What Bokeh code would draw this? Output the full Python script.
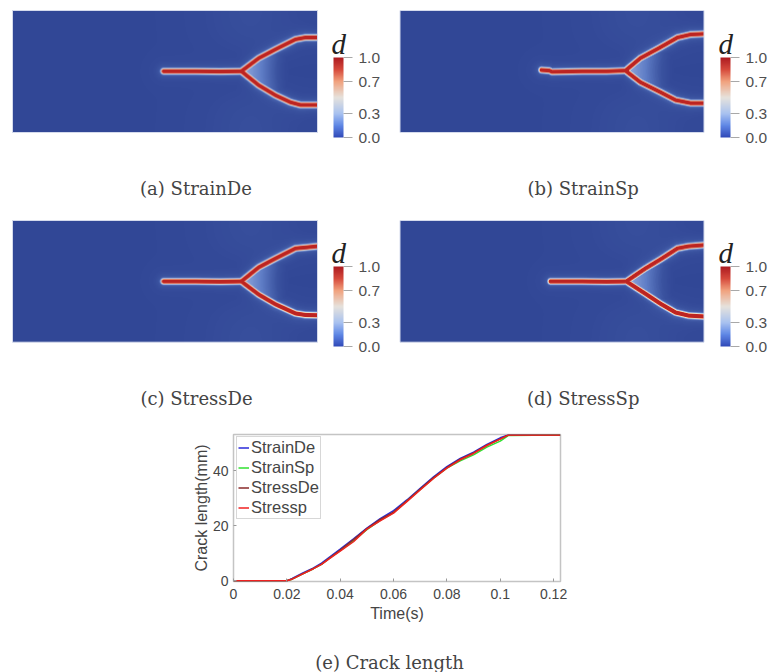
import numpy as np
from bokeh.embed import file_html
from bokeh.resources import INLINE
from bokeh.plotting import figure
from bokeh.layouts import column, row
from bokeh.models import (ColorBar, FixedTicker, Label, Legend, LegendItem,
                          LinearColorMapper, PrintfTickFormatter)

# ---- crack paths (specimen mm: 100 x 40) ----
a_main_x = [49.5, 60, 68, 75]
a_main_y = [20.0, 20.0, 19.9, 20.0]
a_up_x = [75, 80.7, 86.2, 92.8, 96, 100]
a_up_y = [20.0, 24.3, 27.2, 30.5, 31.1, 31.1]
a_lo_x = [75, 80.7, 86.2, 91.1, 94.4, 100]
a_lo_y = [20.0, 15.4, 12.1, 9.8, 8.9, 8.9]

b_main_x = [46.5, 49, 50, 60, 68, 74.2]
b_main_y = [20.4, 20.2, 19.8, 20.0, 20.0, 20.2]
b_up_x = [74.2, 79.1, 85.7, 91.3, 95.6, 100]
b_up_y = [20.2, 24.3, 27.9, 31.1, 32.1, 32.3]
b_lo_x = [74.2, 79.1, 85.7, 90.7, 95.6, 100]
b_lo_y = [20.2, 16.4, 13.1, 10.5, 9.5, 9.5]

c_main_x = [49.5, 60, 68, 75]
c_main_y = [19.9, 19.9, 19.8, 19.9]
c_up_x = [75, 80.7, 86.2, 92.8, 96, 100]
c_up_y = [19.9, 24.5, 27.4, 30.7, 31, 31.4]
c_lo_x = [75, 80.7, 86.2, 92.8, 96, 100]
c_lo_y = [19.9, 15.6, 12.4, 9.4, 8.9, 8.8]

d_main_x = [49.5, 60, 68, 74.5]
d_main_y = [19.9, 19.9, 19.8, 19.9]
d_up_x = [74.5, 80.7, 85.7, 91.3, 94.9, 100]
d_up_y = [19.9, 24.1, 27.1, 30.7, 31.4, 31.8]
d_lo_x = [74.5, 80.7, 85.7, 90.7, 94.9, 100]
d_lo_y = [19.9, 15.9, 12.6, 9.7, 8.7, 8.4]

captions = ["(a) StrainDe", "(b) StrainSp", "(c) StressDe", "(d) StressSp", "(e) Crack length"]
cbar_ticks = [0.0, 0.3, 0.7, 1.0]

# ---- crack length curves ----
time_s = [0, 0.02, 0.022, 0.026, 0.03, 0.033, 0.036, 0.04, 0.045, 0.05, 0.055,
          0.06, 0.065, 0.07, 0.075, 0.08, 0.085, 0.09, 0.095, 0.1, 0.103, 0.1225]
strain_de = [0, 0, 0.9, 2.9, 4.7, 6.4, 8.6, 11.5, 15.3, 19.2, 22.6, 25.5, 29.4, 33.6, 37.8, 41.5, 44.5, 46.8, 49.6, 52, 53, 53]
strain_sp = [0, 0, 0.6, 2.5, 4.4, 6, 8.2, 11, 14.6, 18.6, 22, 24.8, 29, 33.2, 37.3, 41, 43.6, 45.8, 48.6, 50.8, 52.8, 53]
stress_de = [0, 0, 0.7, 2.6, 4.5, 6.1, 8.3, 11.2, 15, 19, 22.3, 25, 29.1, 33.4, 37.5, 41.2, 44.2, 46.5, 49.3, 51.6, 53, 53]
stress_sp = [0, 0, 0.6, 2.5, 4.4, 6, 8.1, 10.8, 14.2, 18.8, 21.8, 24.6, 28.8, 33, 37.2, 41, 44, 46.3, 49.2, 51.5, 53, 53]
x_ticks = [0, 0.02, 0.04, 0.06, 0.08, 0.1, 0.12]
y_ticks = [0, 20, 40]

SANS = "Liberation Sans"
SERIF = "Liberation Serif"
CAP = "DejaVu Serif"


def ramp(stops):
    pos = [s[0] for s in stops]
    rgb = np.array([[int(s[1][i:i + 2], 16) for i in (1, 3, 5)] for s in stops], float)
    t = np.linspace(0, 1, 256)
    chan = [np.interp(t, pos, rgb[:, i]) for i in range(3)]
    return ["#%02x%02x%02x" % tuple(int(round(c[i])) for c in chan) for i in range(256)]


FIELD = ramp([(0, "#2f4494"), (0.06, "#3a529f"), (0.15, "#5f7dc6"), (0.3, "#a0b4e0"), (0.5, "#e4dfd2"),
              (0.7, "#f0a078"), (0.85, "#dc4f3e"), (1, "#bc2422")])
BAR = ramp([(0, "#3049b8"), (0.15, "#5f88e6"), (0.3, "#a9c2f0"), (0.5, "#e6e2dc"),
            (0.7, "#f1a27e"), (0.85, "#d64a3c"), (1, "#ad1a20")])


def seg_dist(X, Y, xs, ys):
    best = np.full(X.shape, 1e9)
    for x0, y0, x1, y1 in zip(xs[:-1], ys[:-1], xs[1:], ys[1:]):
        dx, dy = x1 - x0, y1 - y0
        u = np.clip(((X - x0) * dx + (Y - y0) * dy) / (dx * dx + dy * dy), 0, 1)
        best = np.minimum(best, np.hypot(X - x0 - u * dx, Y - y0 - u * dy))
    return best


def field(mx, my, ux, uy, lx, ly):
    gx = np.linspace(0, 100, 610)
    gy = np.linspace(0, 40, 244)
    X, Y = np.meshgrid(gx, gy)
    r = np.minimum.reduce([seg_dist(X, Y, mx, my), seg_dist(X, Y, ux, uy), seg_dist(X, Y, lx, ly)])
    core = np.minimum(1, 1.5 * np.exp(-(r / 0.8) ** 2))
    halo = 0.17 * np.exp(-r / 1.4)
    inside = (Y < np.interp(X, ux, uy)) & (Y > np.interp(X, lx, ly)) & (X > ux[0])
    wedge = inside * 0.27 * np.clip(1 - (X - ux[0]) / 16, 0, 1) ** 1.3
    base = 0.015 + 0.03 * np.exp(-((X - 78) / 16) ** 2) * (1 - np.exp(-(np.abs(Y - 20) / 9) ** 2))
    return np.maximum.reduce([core, halo + base, wedge + base])


def panel(w, h, left, top, ph, sx, caption, cap_x, cap_y, bar_x, bar_y, d_x, d_y, paths):
    # whole cell is the frame; the specimen sits at (left, top) with scale sx px/mm
    sy = ph / 40
    p = figure(width=w, height=h, x_range=(-left / sx, (w - left) / sx),
               y_range=(-(h - top - ph) / sy, (top + ph) / sy), output_backend="svg",
               toolbar_location=None, x_axis_location=None, y_axis_location=None,
               min_border=0)
    p.grid.visible = False
    p.outline_line_color = None
    mapper = LinearColorMapper(palette=FIELD, low=0, high=1)
    p.image(image=[field(*paths)], x=0, y=0, dw=100, dh=40, color_mapper=mapper)
    p.quad(left=[0], right=[100], bottom=[0], top=[40], fill_color=None, line_color="#d4daec", line_width=1)
    bar_map = LinearColorMapper(palette=BAR, low=0, high=1)
    cb = ColorBar(color_mapper=bar_map, ticker=FixedTicker(ticks=cbar_ticks),
                  formatter=PrintfTickFormatter(format="%.1f"), width=10, height=80,
                  location=(bar_x, bar_y), padding=0, margin=0, background_fill_alpha=0,
                  major_label_text_font=SANS, major_label_text_font_size="15.5px",
                  major_label_text_color="#505050", major_tick_in=0, major_tick_out=9,
                  major_tick_line_color="#a8a8a8", bar_line_color=None, border_line_color=None,
                  minor_tick_line_color=None, label_standoff=6)
    p.add_layout(cb, "center")
    p.add_layout(Label(x=d_x, y=d_y, x_units="screen", y_units="screen", text="d",
                       text_baseline="alphabetic", text_font=SERIF, text_font_style="italic",
                       text_font_size="29px", text_color="#222222"))
    p.add_layout(Label(x=cap_x, y=cap_y, x_units="screen", y_units="screen", text=caption,
                       text_align="center", text_baseline="middle", text_font=CAP,
                       text_font_size="18px", text_color="#444444"))
    return p


fa = panel(392, 208, 12, 10, 122, 3.05, captions[0], 195.5, 20, 333, 71, 331, 165, (a_main_x, a_main_y, a_up_x, a_up_y, a_lo_x, a_lo_y))
fb = panel(376, 208, 7.5, 10, 122, 3.04, captions[1], 190.7, 20, 328, 71, 326, 165, (b_main_x, b_main_y, b_up_x, b_up_y, b_lo_x, b_lo_y))
fc = panel(392, 210, 12, 12, 121.7, 3.05, captions[2], 196, 20.5, 333, 72, 331, 165.3, (c_main_x, c_main_y, c_up_x, c_up_y, c_lo_x, c_lo_y))
fd = panel(376, 210, 7.5, 12, 121.7, 3.04, captions[3], 190.7, 20.5, 328, 72, 326, 165.3, (d_main_x, d_main_y, d_up_x, d_up_y, d_lo_x, d_lo_y))

fe = figure(width=768, height=208, x_range=(0, 0.1226), y_range=(-0.25, 53.2), output_backend="svg",
            toolbar_location=None, min_border_left=233, min_border_right=208,
            min_border_top=16, min_border_bottom=45)
fe.grid.visible = False
fe.outline_line_color = "#c4c4c4"
fe.outline_line_width = 1.5
fe.xaxis.ticker = FixedTicker(ticks=x_ticks)
fe.xaxis.major_label_overrides = {0: "0", 0.02: "0.02", 0.04: "0.04", 0.06: "0.06", 0.08: "0.08", 0.1: "0.1", 0.12: "0.12"}
fe.yaxis.ticker = FixedTicker(ticks=y_ticks)
fe.xaxis.axis_label = "Time(s)"
fe.yaxis.axis_label = "Crack length(mm)"
for ax in (fe.xaxis[0], fe.yaxis[0]):
    ax.axis_line_color = None
    ax.major_tick_line_color = "#9a9a9a"
    ax.major_tick_in = 3
    ax.major_tick_out = 0
    ax.minor_tick_line_color = None
    ax.major_label_text_font = SANS
    ax.major_label_text_font_size = "14px"
    ax.major_label_text_color = "#454545"
    ax.axis_label_text_font = SANS
    ax.axis_label_text_font_style = "normal"
    ax.axis_label_text_font_size = "16px"
    ax.axis_label_text_color = "#454545"
fe.xaxis.major_label_standoff = 7
fe.xaxis.axis_label_standoff = 3
fe.yaxis.major_label_standoff = 5
fe.yaxis.axis_label_standoff = 0

r1 = fe.line(time_s, strain_de, line_color="#2a2ad8", line_width=1.5)
r2 = fe.line(time_s, strain_sp, line_color="#30e030", line_width=1.5)
r3 = fe.line(time_s, stress_de, line_color="#8a2a2a", line_width=1.5)
r4 = fe.line(time_s, stress_sp, line_color="#f02020", line_width=1.5)
legend = Legend(items=[LegendItem(label="StrainDe", renderers=[r1]), LegendItem(label="StrainSp", renderers=[r2]),
                       LegendItem(label="StressDe", renderers=[r3]), LegendItem(label="Stressp", renderers=[r4])],
                location=(3, 62.5), padding=1, margin=0, spacing=1, glyph_width=11, glyph_height=19,
                label_height=19, label_standoff=2, label_text_font=SANS, label_text_font_size="16.5px",
                label_text_color="#454545", border_line_color="#b0b0b0", background_fill_alpha=0.95)
fe.add_layout(legend, "center")

fcap = figure(width=768, height=46, x_range=(0, 1), y_range=(0, 1), output_backend="svg", toolbar_location=None,
              x_axis_location=None, y_axis_location=None, min_border=0)
fcap.grid.visible = False
fcap.outline_line_color = None
fcap.add_layout(Label(x=156, y=10.5, x_units="screen", y_units="screen", text=captions[4], text_align="center",
                      text_baseline="middle", text_font=CAP, text_font_size="18px", text_color="#444444"))

layout = column(row(fa, fb, spacing=0), row(fc, fd, spacing=0), fe, fcap, spacing=0)
open("out.html", "w").write(file_html(layout, INLINE))
